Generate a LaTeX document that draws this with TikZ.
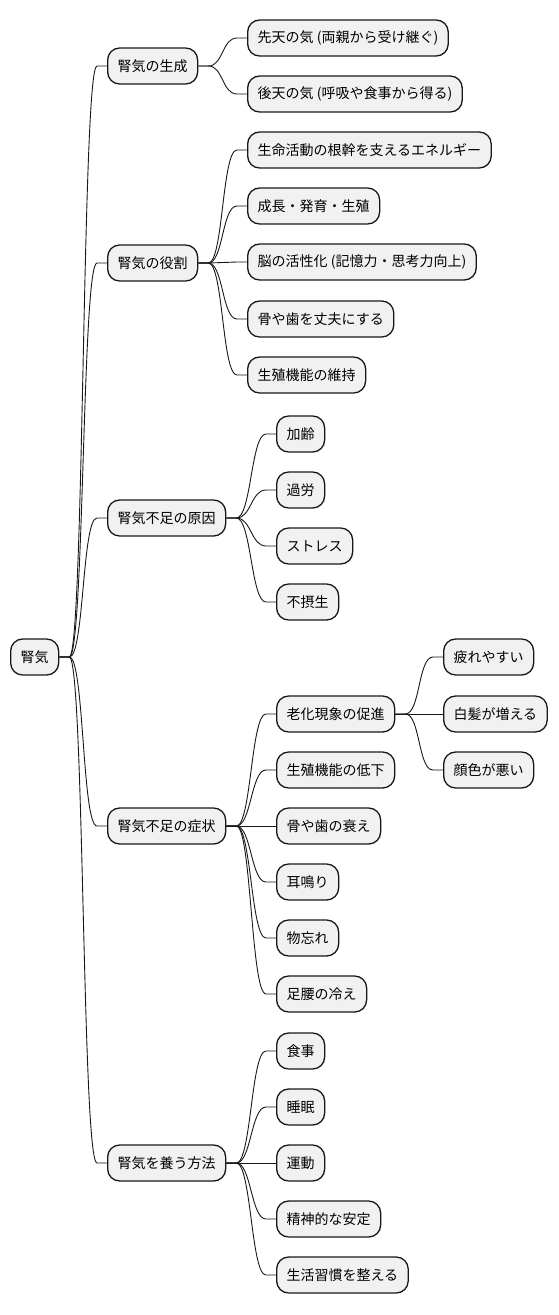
\documentclass[tikz,border=0pt]{standalone}
\usepackage{fontspec}
\setmainfont{Noto Sans CJK JP}
\definecolor{boxfill}{HTML}{F1F1F1}
\definecolor{edge}{HTML}{181818}
\newcommand{\branch}[2]{\foreach \kid in {#2}{
  \draw[link] (#1.east) -- ++(10,0) .. controls +(15,0) and ([xshift=-25pt]\kid.west)
    .. ([xshift=-10pt]\kid.west) -- (\kid.west);}}
\begin{document}
\begin{tikzpicture}[x=1pt,y=-1pt,font=\fontsize{14}{16}\selectfont,
  box/.style={draw=edge,fill=boxfill,line width=1.3pt,rounded corners=12pt,
    minimum height=36pt,inner xsep=10pt,inner ysep=0pt,anchor=west},
  link/.style={draw=edge,line width=0.9pt}]
  \useasboundingbox (0,0) rectangle (558,1315);
  \node[box] (root) at (10,657) {腎気};
  \foreach \n/\y/\txt in {gen/66/腎気の生成,role/263/腎気の役割,cause/518/腎気不足の原因,
      symp/826/腎気不足の症状,care/1163/腎気を養う方法}
    \node[box] (\n) at (107,\y) {\txt};
  \foreach \n/\y/\txt in {g1/38/先天の気 (両親から受け継ぐ),g2/94/後天の気 (呼吸や食事から得る),
      r1/150/生命活動の根幹を支えるエネルギー,r2/206/成長・発育・生殖,
      r3/262/脳の活性化 (記憶力・思考力向上),r4/319/骨や歯を丈夫にする,r5/375/生殖機能の維持}
    \node[box] (\n) at (247,\y) {\txt};
  \foreach \n/\y/\txt in {c1/434/加齢,c2/490/過労,c3/546/ストレス,c4/602/不摂生,
      s1/714/老化現象の促進,s2/770/生殖機能の低下,s3/826/骨や歯の衰え,s4/882/耳鳴り,
      s5/938/物忘れ,s6/994/足腰の冷え,
      m1/1051/食事,m2/1107/睡眠,m3/1163/運動,m4/1219/精神的な安定,m5/1275/生活習慣を整える}
    \node[box] (\n) at (276,\y) {\txt};
  \foreach \n/\y/\txt in {a1/657/疲れやすい,a2/714/白髪が増える,a3/770/顔色が悪い}
    \node[box] (\n) at (443,\y) {\txt};
  % connectors
  \branch{root}{gen,role,cause,symp,care}
  \branch{gen}{g1,g2}
  \branch{role}{r1,r2,r3,r4,r5}
  \branch{cause}{c1,c2,c3,c4}
  \branch{symp}{s1,s2,s3,s4,s5,s6}
  \branch{s1}{a1,a2,a3}
  \branch{care}{m1,m2,m3,m4,m5}
\end{tikzpicture}
\end{document}
